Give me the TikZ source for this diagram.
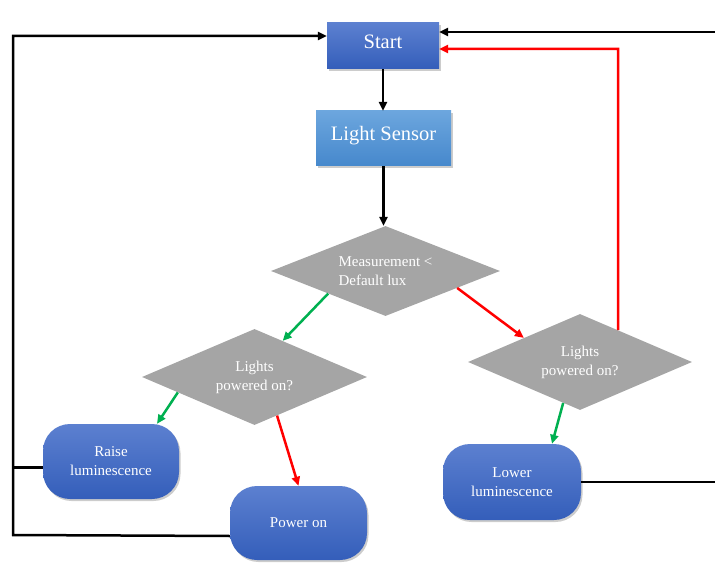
\documentclass[tikz,border=0pt]{standalone}
\usepackage{fontspec}
\setmainfont{Liberation Serif}
\usetikzlibrary{arrows.meta,shapes.geometric,shadows,calc}
\definecolor{starttop}{RGB}{92,128,208}
\definecolor{startbot}{RGB}{52,94,186}
\definecolor{senstop}{RGB}{108,166,222}
\definecolor{sensbot}{RGB}{70,136,204}
\definecolor{dgray}{RGB}{165,165,165}
\definecolor{lgreen}{RGB}{0,176,80}
\definecolor{lred}{RGB}{255,0,0}
\begin{document}
\begin{tikzpicture}[x=1pt,y=-1pt,
  shad/.style={drop shadow={shadow xshift=1.5pt,shadow yshift=-2pt,opacity=0.2,fill=black}},
  startbox/.style={rectangle,shad,top color=starttop,bottom color=startbot,text=white,
    minimum width=112pt,minimum height=46pt,inner sep=0pt,text height=13.5pt,text depth=7.5pt,
    font=\fontsize{20.5}{24}\selectfont},
  sensorbox/.style={rectangle,shad,top color=senstop,bottom color=sensbot,text=white,
    minimum width=135pt,minimum height=55pt,inner sep=0pt,text height=14pt,text depth=9pt,
    font=\fontsize{20.5}{24}\selectfont},
  decision/.style={diamond,aspect=2.5,fill=dgray,text=white,inner sep=0pt,align=center,
    font=\fontsize{15}{19}\selectfont},
  pill/.style={rectangle,rounded corners=27pt,shad,top color=starttop,bottom color=startbot,
    text=white,inner sep=0pt,align=center,font=\fontsize{15}{19}\selectfont},
  conn/.style={line width=2.5pt,-{Triangle[length=9pt,width=8pt]}},
  blk/.style={conn,black},
  grn/.style={conn,lgreen},
  rd/.style={conn,lred},
  plain/.style={line width=2.5pt,black}]
\useasboundingbox (0,0) rectangle (715,567);

\node[startbox] (start) at (383,46) {Start};
\node[sensorbox] (sensor) at (383.5,138.5) {Light Sensor};
\node[decision,minimum width=229pt,minimum height=90pt,align=left] (d1) at (385.5,271) {Measurement <\\Default lux};
\node[decision,minimum width=225pt,minimum height=96pt] (d2) at (254.5,377) {Lights\\powered on?};
\node[decision,minimum width=224pt,minimum height=96pt] (d3) at (580,362) {Lights\\powered on?};
\node[pill,minimum width=136pt,minimum height=75pt] (raise) at (111,461.5) {Raise\\luminescence};
\node[pill,minimum width=137pt,minimum height=74pt] (power) at (298.5,523) {Power on};
\node[pill,minimum width=138pt,minimum height=76pt] (lower) at (512,482) {Lower\\luminescence};

\coordinate (lt) at (13,36);
\coordinate (lb) at (13,535);
\coordinate (rt) at (717,32);
\coordinate (rb) at (717,482);
\coordinate (rc) at (618,49);

\draw[blk] (start.south) -- (start.south |- sensor.north);
\draw[blk] (sensor.south) -- (sensor.south |- d1.north);
\draw[grn] (d1.south west) -- ($(d2.north)!0.25!(d2.east)$);
\draw[rd] ($(d1.east)!0.375!(d1.south)$) -- (d3.north west);
\draw[grn] ($(d2.west)!0.32!(d2.south)$) -- ([xshift=46pt]raise.north);
\draw[rd] ($(d2.south)!0.2!(d2.east)$) -- (power.north);
\draw[grn] ($(d3.south)!0.15!(d3.west)$) -- ([xshift=40pt]lower.north);
\draw[rd] ($(d3.north)!0.34!(d3.east)$) -- (rc) -- (rc -| start.east);
\draw[blk] (lower.east) -- (rb) -- (rt) -- (rt -| start.east);
\draw[plain] ([yshift=-6pt]raise.west) -- ([yshift=-6pt]raise.west -| lb);
\draw[blk] ([yshift=-13pt]power.west) -- (lb) -- (lt) -- (lt -| start.west);
\end{tikzpicture}
\end{document}
